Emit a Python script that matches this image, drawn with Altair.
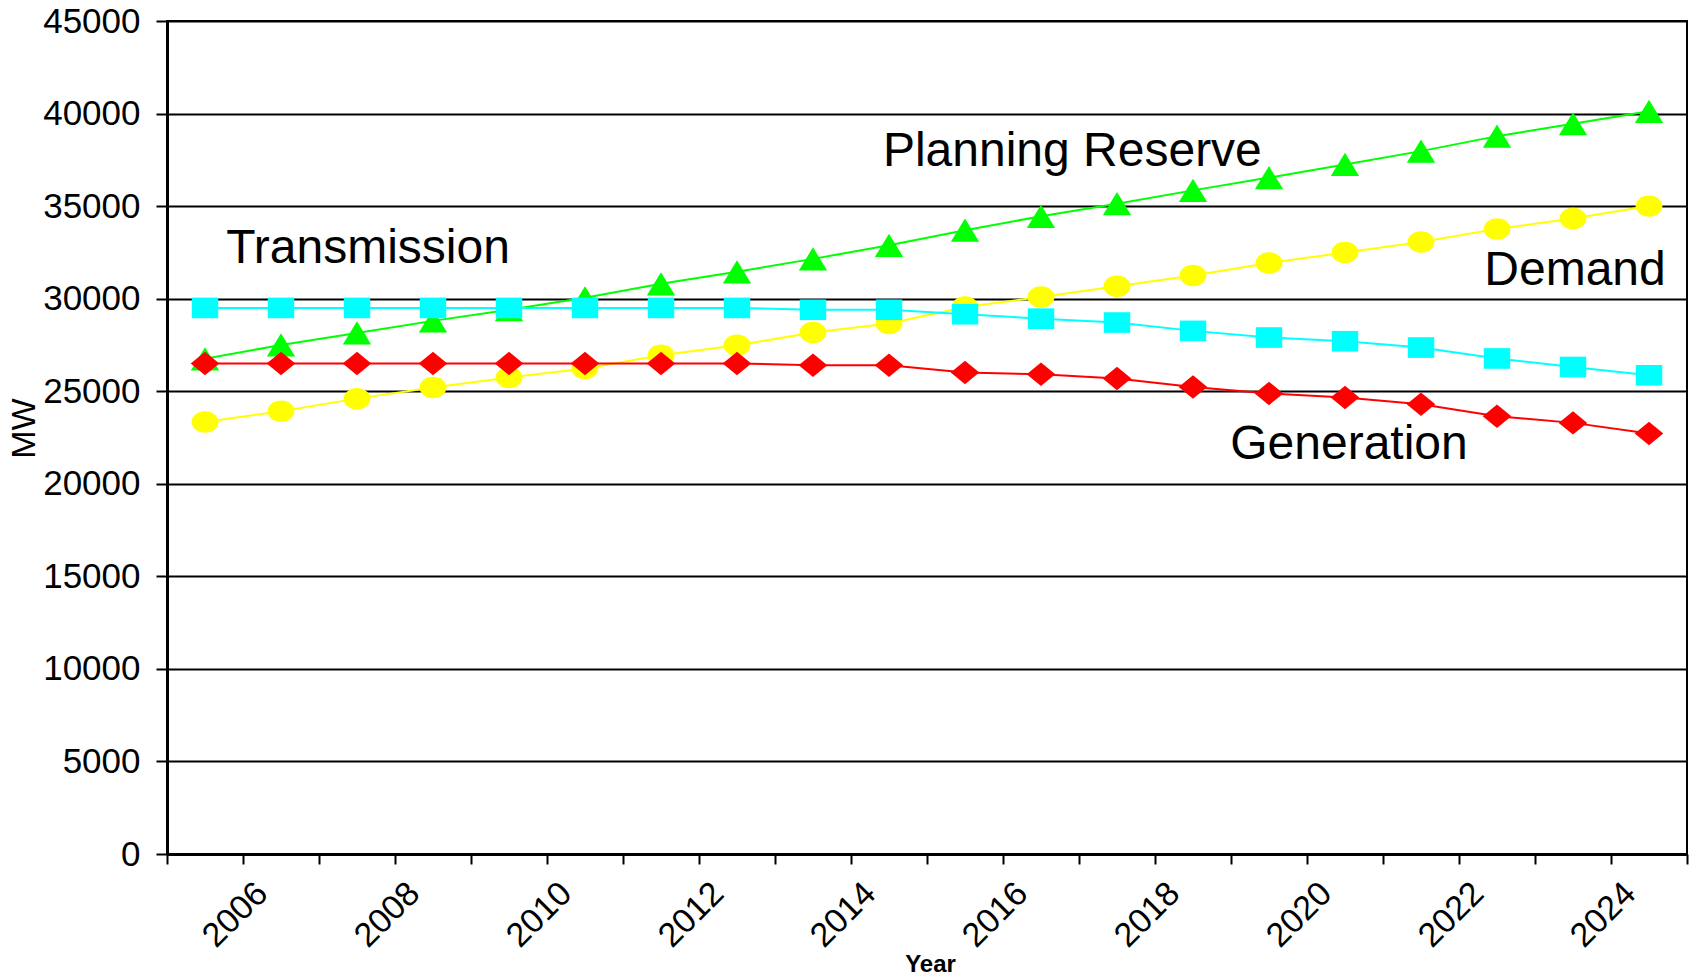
import altair as alt
import pandas as pd

# ---- data ----
years = list(range(2005, 2025))
planning_reserve = [26750, 27500, 28150, 28800, 29400, 30050, 30800, 31450, 32150, 32880,
                    33700, 34450, 35130, 35850, 36540, 37250, 37970, 38780, 39450, 40120]
demand = [23340, 23920, 24600, 25200, 25740, 26230, 26940, 27480, 28170, 28660,
          29550, 30090, 30670, 31250, 31930, 32490, 33060, 33770, 34330, 35000]
transmission = [29500, 29500, 29500, 29500, 29500, 29500, 29500, 29500, 29400, 29400,
                29160, 28920, 28710, 28260, 27900, 27700, 27360, 26770, 26310, 25860]
generation = [26500, 26500, 26500, 26500, 26500, 26500, 26500, 26500, 26400, 26400,
              26010, 25920, 25690, 25230, 24880, 24660, 24300, 23650, 23290, 22720]

series_names = ["Planning Reserve", "Demand", "Transmission", "Generation"]
series_values = [planning_reserve, demand, transmission, generation]
series_colors = ["#00FF00", "#FFFF00", "#00FFFF", "#FF0000"]
series_shapes = [
    "M-1,0.82L1,0.82L0,-0.82Z",                              # triangle
    "M-1,0A1,0.8,0,1,1,1,0A1,0.8,0,1,1,-1,0Z",               # circle (ellipse)
    "M-1,-0.78H1V0.78H-1Z",                                  # square
    "M-1,0L0,-0.82L1,0L0,0.82Z",                             # diamond
]
series_sizes = [800, 720, 700, 820]

ann_text = ["Planning Reserve", "Transmission", "Demand", "Generation"]
ann_year = [2014.42, 2005.78, 2024.72, 2018.99]
ann_mw = [37150, 31950, 30760, 21330]
ann_align = ["left", "left", "right", "left"]

x_ticks = list(range(2005, 2026))
y_ticks = list(range(0, 45001, 5000))

FONT = "Liberation Sans"

x_scale = alt.Scale(domain=[2005, 2025], nice=False, zero=False)
y_scale = alt.Scale(domain=[0, 45000], nice=False)

x_axis = alt.Axis(
    values=x_ticks, format="d", grid=False,
    labelExpr="datum.value % 2 == 0 ? datum.label : ''",
    labelAngle=315, labelAlign="right", labelBaseline="top",
    labelFontSize=34, labelFont=FONT, labelColor="black",
    labelPadding=12, labelOffset=7, labelFlush=False, labelOverlap=False,
    tickSize=10, tickWidth=2, tickColor="black",
    domainColor="black", domainWidth=3,
    title="Year", titleFont=FONT, titleFontSize=24, titleFontWeight="bold",
    titleColor="black", titleX=763, titleY=110, titleAlign="center",
    titleBaseline="middle",
)
y_axis = alt.Axis(
    values=y_ticks, format="d", grid=True, gridColor="black", gridWidth=2,
    gridOpacity=1,
    labelFontSize=35, labelFont=FONT, labelColor="black", labelPadding=16,
    tickSize=11, tickWidth=2, tickColor="black",
    domainColor="black", domainWidth=3,
    title="MW", titleFont=FONT, titleFontSize=34, titleFontWeight="normal",
    titleColor="black", titleAngle=270, titleX=-143, titleY=407,
    titleAlign="center", titleBaseline="middle",
)

layers = []
for i, (name, vals) in enumerate(zip(series_names, series_values)):
    df = pd.DataFrame({"year": years, "value": vals, "series": name})
    base = alt.Chart(df).transform_calculate(xpos="datum.year + 0.5")
    enc_x = alt.X("xpos:Q", scale=x_scale, axis=x_axis)
    enc_y = alt.Y("value:Q", scale=y_scale, axis=y_axis)
    line = base.mark_line(color=series_colors[i], strokeWidth=2).encode(x=enc_x, y=enc_y)
    pts = base.mark_point(
        shape=series_shapes[i], size=series_sizes[i], filled=True,
        fill=series_colors[i], color=series_colors[i], opacity=1, strokeWidth=0,
    ).encode(x=enc_x, y=enc_y)
    layers += [line, pts]

ann_df = pd.DataFrame({"text": ann_text, "year": ann_year, "mw": ann_mw, "align": ann_align})
for align in ["left", "right"]:
    sub = ann_df[ann_df["align"] == align]
    layers.append(
        alt.Chart(sub).mark_text(
            font=FONT, fontSize=48, color="black", align=align, baseline="alphabetic"
        ).encode(
            x=alt.X("year:Q", scale=x_scale, axis=x_axis),
            y=alt.Y("mw:Q", scale=y_scale, axis=y_axis),
            text="text:N",
        )
    )

chart = alt.layer(*layers).properties(
    width=1520, height=833,
    autosize="none",
    background="white",
    padding={"left": 167, "top": 21, "right": 5, "bottom": 124},
).configure_view(stroke="black", strokeWidth=2)

chart.save("out.html", embed_options={"renderer": "svg", "actions": False})
